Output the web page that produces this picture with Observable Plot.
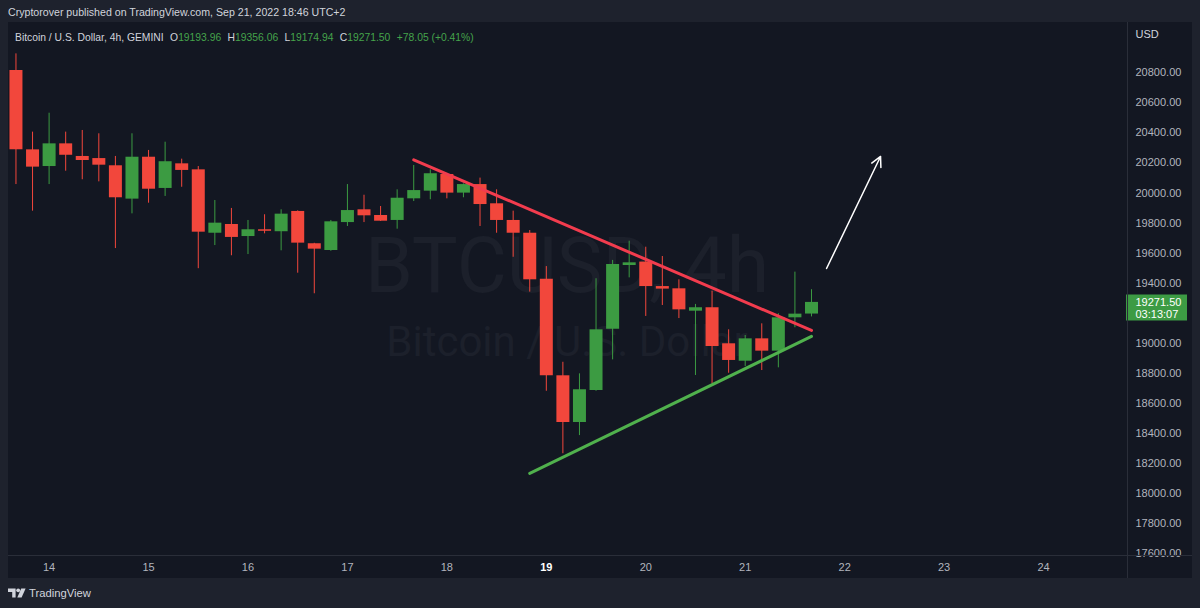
<!DOCTYPE html>
<html>
<head>
<meta charset="utf-8">
<script src="https://cdn.jsdelivr.net/npm/d3@7"></script>
<script src="https://cdn.jsdelivr.net/npm/@observablehq/plot@0.6"></script>
<style>
  html, body { margin: 0; padding: 0; width: 1200px; height: 608px; overflow: hidden; background: #1e222d; font-family: "Liberation Sans", Arial, sans-serif; }
  #top { position: absolute; left: 8px; top: 6px; color: #d1d4dc; font-size: 11px; line-height: 12px; white-space: nowrap; }
  #panel { position: absolute; left: 8px; top: 22px; width: 1184px; height: 556px; background: #131722; }
  #chart { position: absolute; left: 0; top: 0; }
  #info { position: absolute; left: 7px; top: 9.5px; color: #d1d4dc; font-size: 10.5px; line-height: 12px; white-space: nowrap; }
  #info .g { color: #45a34b; }
  #info .k { margin-left: 0.62em; }
  .vline { position: absolute; left: 1119px; top: 0; width: 1px; height: 556px; background: #2a2e39; }
  .hline { position: absolute; left: 0; top: 533px; width: 1184px; height: 1px; background: #2a2e39; }
  #foot { position: absolute; left: 8px; top: 586px; height: 14px; display: flex; align-items: center; color: #d1d4dc; }
  #foot span { font-size: 13px; margin-left: 3px; white-space: nowrap; }
</style>
</head>
<body>
<div id="top">Cryptorover published on TradingView.com, Sep 21, 2022 18:46 UTC+2</div>
<div id="panel">
  <div id="chart"></div>
  <div class="vline"></div>
  <div class="hline"></div>
  <div id="info"></div>
</div>
<div id="foot">
  <svg width="18" height="10" viewBox="0 0 18 10"><path d="M0 0.5H7.6V9.5H4.2V4H0Z" fill="#d1d4dc"/><circle cx="10.2" cy="2.3" r="1.9" fill="#d1d4dc"/><path d="M13.2 0.5H17.6L13.6 9.5H9.3Z" fill="#d1d4dc"/></svg>
  <span id="tvtext">TradingView</span>
</div>
<script>
// ---- data (BTC/USD 4h, GEMINI) ----
const startTime = "2022-09-13T16:00:00Z";   // first visible 4h candle
const candleHours = 4;
const open  = [20815,20287,20176,20327,20243,20229,20181,19959,20238,20030,20194,20154,19732,19790,19710,19755,19742,19877,19662,19617,19803,19888,19850,19817,19961,20012,20123,19999,20056,19928,19817,19732,19426,18783,18472,18685,19093,19517,19540,19377,19362,19213,19236,18996,18880,19029,18947,19169,19193.96];
const high  = [20926,20405,20531,20405,20416,20394,20243,20394,20283,20338,20225,20176,19950,19897,19817,19855,19888,19881,19665,19817,20056,19985,19910,20021,20183,20154,20128,20061,20099,20021,19879,19750,19510,18873,18796,19429,19551,19679,19639,19577,19422,19258,19346,19089,19051,19129,19196,19473,19356.06];
const low   = [20056,19879,20056,20145,20088,20074,19630,19861,19932,19977,20038,19496,19650,19582,19590,19728,19615,19466,19329,19612,19777,19803,19810,19759,19943,19955,19961,19968,19777,19732,19572,19340,18680,18264,18385,18680,18889,19435,19178,19251,19164,18785,18730,18800,18845,18818,18836,19103,19174.94];
const close = [20287,20172,20327,20251,20216,20185,19968,20238,20025,20208,20150,19739,19799,19704,19755,19745,19859,19666,19626,19808,19883,19848,19812,19965,20016,20128,19999,20056,19923,19817,19732,19422,18783,18472,18690,19089,19524,19535,19377,19360,19222,19236,18978,18885,19029,18947,19169,19193.45,19271.50];

// drawn trend lines and arrow (time, price)
const resistanceLine = [{t: "2022-09-17T16:00:00Z", p: 20221}, {t: "2022-09-21T16:00:00Z", p: 19085}];
const supportLine    = [{t: "2022-09-18T20:00:00Z", p: 18133}, {t: "2022-09-21T16:00:00Z", p: 19045}];
const arrowLine      = [{t1: "2022-09-21T19:38:00Z", p1: 19497, t2: "2022-09-22T08:40:00Z", p2: 20243}];

// axis ticks
const dayTicks  = ["2022-09-14","2022-09-15","2022-09-16","2022-09-17","2022-09-18","2022-09-20","2022-09-21","2022-09-22","2022-09-23","2022-09-24"];
const weekTicks = ["2022-09-19"];
const priceTicks = [17600,17800,18000,18200,18400,18600,18800,19000,19400,19600,19800,20000,20200,20400,20600,20800];
const timeDomain = ["2022-09-13T14:12:00Z", "2022-09-24T20:16:00Z"];
const priceDomain = [17586.7, 21134.8];
const countdown = "03:13:07";
const watermark = ["BTCUSD, 4h", "Bitcoin / U.S. Dollar"];

// ---- build ----
const UP = "#3c9b42", DOWN = "#f2473c";
const t0 = new Date(startTime).getTime();
const candles = open.map((o, i) => ({t: new Date(t0 + i * candleHours * 3600e3), o, h: high[i], l: low[i], c: close[i]}));
const ups = candles.filter(d => d.c >= d.o);
const downs = candles.filter(d => d.c < d.o);
const last = candles[candles.length - 1];
const prev = candles[candles.length - 2];
const toDate = s => new Date(s);
const res = resistanceLine.map(d => ({t: toDate(d.t), p: d.p}));
const sup = supportLine.map(d => ({t: toDate(d.t), p: d.p}));
const arr = arrowLine.map(d => ({t1: toDate(d.t1), p1: d.p1, t2: toDate(d.t2), p2: d.p2}));

const chart = Plot.plot({
  width: 1184,
  height: 556,
  marginLeft: 0,
  marginRight: 65,
  marginTop: 0,
  marginBottom: 23,
  style: {background: "transparent", color: "#b2b5be", fontFamily: "'Liberation Sans', Arial, sans-serif", fontSize: "11px", overflow: "visible"},
  x: {type: "utc", domain: timeDomain.map(toDate)},
  y: {domain: priceDomain},
  marks: [
    Plot.text([watermark[0]], {frameAnchor: "middle", dx: -1, dy: -21.4, fontSize: 77, fontFamily: "Roboto", fill: "#1c202b", text: d => d}),
    Plot.text([watermark[1]], {frameAnchor: "middle", dx: -1, dy: 54, fontSize: 42, fontFamily: "Roboto", fill: "#1c202b", text: d => d}),
    Plot.ruleX(ups,   {x: "t", y1: "l", y2: "h", stroke: UP, strokeWidth: 1}),
    Plot.ruleX(downs, {x: "t", y1: "l", y2: "h", stroke: DOWN, strokeWidth: 1}),
    Plot.ruleX(ups,   {x: "t", y1: "o", y2: "c", stroke: UP, strokeWidth: 13}),
    Plot.ruleX(downs, {x: "t", y1: "o", y2: "c", stroke: DOWN, strokeWidth: 13}),
    Plot.line(res, {x: "t", y: "p", stroke: "#f23c4e", strokeWidth: 3}),
    Plot.line(sup, {x: "t", y: "p", stroke: "#50b14d", strokeWidth: 3}),
    Plot.arrow(arr, {x1: "t1", y1: "p1", x2: "t2", y2: "p2", stroke: "#ffffff", strokeWidth: 1.5, headLength: 11, headAngle: 55}),
    Plot.axisX(dayTicks.map(toDate), {anchor: "bottom", tickSize: 0, tickPadding: 8, tickFormat: d => d.getUTCDate(), fill: "#b2b5be", label: null}),
    Plot.axisX(weekTicks.map(toDate), {anchor: "bottom", tickSize: 0, tickPadding: 8, tickFormat: d => d.getUTCDate(), fill: "#ffffff", fontWeight: "bold", label: null}),
    Plot.axisY(priceTicks, {anchor: "right", tickSize: 0, tickPadding: 8, tickFormat: d => d.toFixed(2), fill: "#b2b5be", label: null}),
    Plot.text(["USD"], {frameAnchor: "top-right", dx: 8, dy: 7.5, textAnchor: "start", fill: "#d1d4dc", text: d => d}),
    Plot.ruleY([last], {y: "c", insetLeft: 1118, insetRight: -60, dy: 5, stroke: "#3d9b44", strokeWidth: 26}),
    Plot.text([last], {y: "c", frameAnchor: "right", dx: 8, textAnchor: "start", fill: "#ffffff", text: d => d.c.toFixed(2)}),
    Plot.text([last], {y: "c", frameAnchor: "right", dx: 8, dy: 12, textAnchor: "start", fill: "#ffffff", text: () => countdown})
  ]
});
document.getElementById("chart").appendChild(chart);

// info line from the last candle
const chg = last.c - prev.c;
const pct = chg / prev.c * 100;
const sign = v => (v >= 0 ? "+" : "") + v.toFixed(2);
document.getElementById("info").innerHTML =
  `<span>Bitcoin / U.S. Dollar, 4h, GEMINI</span>` +
  `<span class="k">O</span><span class="g">${last.o.toFixed(2)}</span>` +
  `<span class="k">H</span><span class="g">${last.h.toFixed(2)}</span>` +
  `<span class="k">L</span><span class="g">${last.l.toFixed(2)}</span>` +
  `<span class="k">C</span><span class="g">${last.c.toFixed(2)}</span>` +
  `<span class="k g">${sign(chg)} (${sign(pct)}%)</span>`;

// fit text widths to the reference
function fit(el, w) {
  const r = el.getBoundingClientRect().width;
  const fs = parseFloat(getComputedStyle(el).fontSize);
  if (r > 0) el.style.fontSize = (fs * w / r) + "px";
}
fit(document.getElementById("top"), 338);
fit(document.getElementById("info"), 459);
fit(document.getElementById("tvtext"), 62);
</script>
</body>
</html>
